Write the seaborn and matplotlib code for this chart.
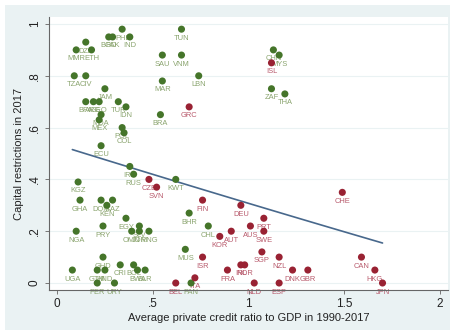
import matplotlib
matplotlib.use("Agg")
import matplotlib.pyplot as plt
import numpy as np
import pandas as pd
import seaborn as sns

# Emerging and developing economies
emde_codes = ["BGD", "PAK", "PHL", "IND", "DZA", "MMR", "ETH", "TZA", "CIV",
              "TUN", "SAU", "VNM", "LBN", "MAR", "BRA", "JAM", "BFA", "ARG",
              "GEO", "TUR", "IDN", "MDA", "MEX", "POL", "COL", "ECU", "IRN",
              "RUS", "KWT", "KGZ", "GHA", "DOM", "KAZ", "KEN", "BHR", "CHL",
              "EGY", "PRY", "NGA", "OMN", "SLV", "JOR", "MNG", "MUS", "PAN",
              "UGA", "GHD", "GTM", "HND", "CRI", "BOL", "BWA", "BLR", "PER",
              "URY", "CHN", "MYS", "ZAF", "THA"]
emde_credit = [0.27, 0.29, 0.34, 0.38, 0.15, 0.10, 0.18, 0.09, 0.15,
               0.65, 0.55, 0.65, 0.74, 0.55, 0.54, 0.25, 0.15, 0.19,
               0.22, 0.32, 0.36, 0.23, 0.22, 0.34, 0.35, 0.23, 0.38,
               0.40, 0.62, 0.11, 0.12, 0.23, 0.29, 0.26, 0.69, 0.79,
               0.36, 0.24, 0.10, 0.39, 0.43, 0.43, 0.48, 0.67, 0.70,
               0.08, 0.24, 0.21, 0.25, 0.33, 0.40, 0.42, 0.46, 0.21,
               0.30, 1.13, 1.16, 1.12, 1.19]
emde_restr = [0.95, 0.95, 0.98, 0.95, 0.93, 0.90, 0.90, 0.80, 0.80,
              0.98, 0.88, 0.88, 0.80, 0.78, 0.65, 0.75, 0.70, 0.70,
              0.70, 0.70, 0.68, 0.65, 0.63, 0.60, 0.58, 0.53, 0.45,
              0.42, 0.40, 0.39, 0.32, 0.32, 0.32, 0.30, 0.27, 0.22,
              0.25, 0.22, 0.20, 0.20, 0.22, 0.20, 0.20, 0.13, 0.00,
              0.05, 0.10, 0.05, 0.05, 0.07, 0.07, 0.05, 0.05, 0.00,
              0.00, 0.90, 0.88, 0.75, 0.73]

# Advanced economies
adv_codes = ["GRC", "ISL", "CZE", "SVN", "FIN", "DEU", "CHE", "PRT", "AUS",
             "AUT", "SWE", "KOR", "ISR", "SGP", "NZL", "CAN", "DNK", "GBR",
             "HKG", "FRA", "ITA", "IRL", "NOR", "BEL", "NLD", "ESP", "JPN"]
adv_credit = [0.69, 1.12, 0.48, 0.52, 0.76, 0.96, 1.49, 1.08, 1.01,
              0.91, 1.08, 0.85, 0.76, 1.07, 1.16, 1.59, 1.23, 1.31,
              1.66, 0.89, 0.72, 0.96, 0.98, 0.62, 1.03, 1.16, 1.70]
adv_restr = [0.68, 0.85, 0.40, 0.37, 0.32, 0.30, 0.35, 0.25, 0.22,
             0.20, 0.20, 0.18, 0.10, 0.12, 0.10, 0.10, 0.05, 0.05,
             0.05, 0.05, 0.02, 0.07, 0.07, 0.00, 0.00, 0.00, 0.00]

x_ticks = [0, 0.5, 1, 1.5, 2]
x_ticklabels = ["0", ".5", "1", "1.5", "2"]
y_ticks = [0, 0.2, 0.4, 0.6, 0.8, 1]
y_ticklabels = ["0", ".2", ".4", ".6", ".8", "1"]

df = pd.DataFrame({
    "code": emde_codes + adv_codes,
    "credit": emde_credit + adv_credit,
    "restr": emde_restr + adv_restr,
    "group": ["emde"] * len(emde_codes) + ["adv"] * len(adv_codes),
})

marker_col = {"emde": "#45752a", "adv": "#992233"}
label_col = {"emde": "#8aa46e", "adv": "#b85a6c"}

sns.set_theme(style="white")
plt.rcParams["font.family"] = ["Liberation Sans", "DejaVu Sans"]

fig = plt.figure(figsize=(4.55, 3.34), dpi=100, facecolor="white")
# light graph-region panel behind the plot area
bg = fig.add_axes([5 / 455, 4 / 334, 445 / 455, 325 / 334], zorder=-5)
bg.set_facecolor("#eaf2f3")
bg.set_xticks([])
bg.set_yticks([])
for s in bg.spines.values():
    s.set_visible(False)

ax = fig.add_axes([49 / 455, 44 / 334, 399 / 455, 273 / 334])
ax.set_facecolor("white")

for yt in y_ticks:
    ax.axhline(yt, color="#eaf2f3", lw=0.8, zorder=0)

sns.scatterplot(data=df, x="credit", y="restr", hue="group", palette=marker_col,
                s=26, edgecolor="none", legend=False, ax=ax, zorder=3)

for _, r in df.iterrows():
    ax.annotate(r["code"], (r["credit"], r["restr"]), xytext=(0, -9),
                textcoords="offset pixels", ha="center", va="center",
                fontsize=5.4, color=label_col[r["group"]], zorder=2)

sns.regplot(data=df, x="credit", y="restr", order=2, scatter=False, ci=None,
            truncate=True, ax=ax, line_kws={"color": "#48688c", "lw": 1.2})

ax.set_xlim(-0.042, 2.042)
ax.set_ylim(-0.027, 1.027)
ax.set_xticks(x_ticks)
ax.set_xticklabels(x_ticklabels, fontsize=8.5, color="#222222")
ax.set_yticks(y_ticks)
ax.set_yticklabels(y_ticklabels, fontsize=8.5, color="#222222", rotation=90,
                   va="center")
ax.tick_params(axis="both", direction="out", length=3, width=0.7,
               color="#777777", bottom=True, left=True, pad=3)
for side in ["top", "right"]:
    ax.spines[side].set_visible(False)
for side in ["left", "bottom"]:
    ax.spines[side].set_color("#666666")
    ax.spines[side].set_linewidth(0.8)
ax.grid(False)

ax.set_xlabel("Average private credit ratio to GDP in 1990-2017", fontsize=8,
              color="#222222", labelpad=2)
ax.set_ylabel("Capital restrictions in 2017", fontsize=8, color="#222222",
              labelpad=3)

fig.savefig("out.png", dpi=100, facecolor="white")
